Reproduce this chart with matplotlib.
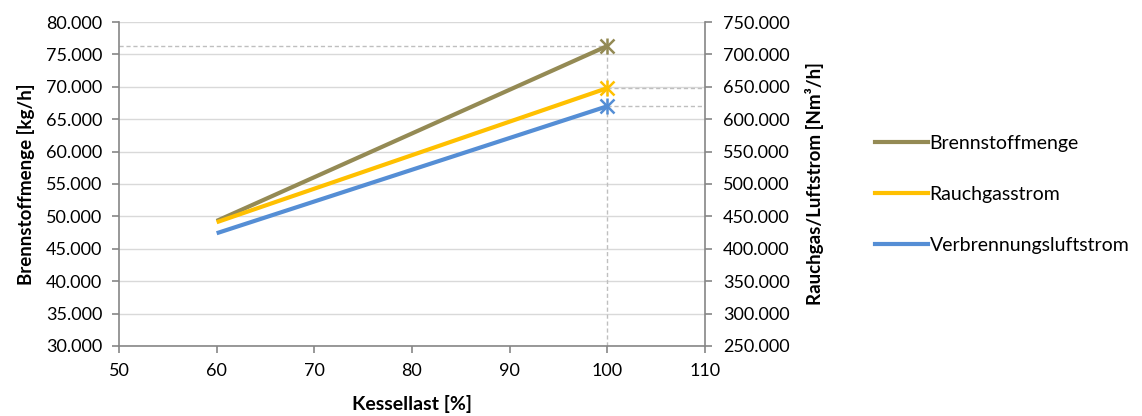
import matplotlib
matplotlib.use("Agg")
import matplotlib.pyplot as plt
from matplotlib.ticker import FuncFormatter, MultipleLocator
from matplotlib.lines import Line2D

plt.rcParams['font.family'] = ['Lato', 'DejaVu Sans']

# Data
kessellast = [60, 100]
brennstoff = [49300, 76300]          # kg/h, left axis
rauchgas = [441000, 648000]          # Nm³/h, right axis
luft = [424000, 620000]              # Nm³/h, right axis
series_names = ["Brennstoffmenge", "Rauchgasstrom", "Verbrennungsluftstrom"]
colors = ["#948A54", "#FFC000", "#558ED5"]

fig = plt.figure(figsize=(11.42, 4.16), dpi=100)
ax = fig.add_axes([0.1042, 0.1683, 0.5131, 0.7788])
ax2 = ax.twinx()

grid_c = "#D9D9D9"
spine_c = "#868686"
fs = 13

ax.set_xlim(50, 110)
ax.set_ylim(30000, 80000)
ax2.set_ylim(250000, 750000)
ax.xaxis.set_major_locator(MultipleLocator(10))
ax.yaxis.set_major_locator(MultipleLocator(5000))
ax2.yaxis.set_major_locator(MultipleLocator(50000))
fmt = FuncFormatter(lambda v, p: f"{v:,.0f}".replace(",", "."))
ax.yaxis.set_major_formatter(fmt)
ax2.yaxis.set_major_formatter(fmt)

ax.grid(axis='y', color=grid_c, linewidth=1)
ax.set_axisbelow(True)

for a in (ax, ax2):
    for s in a.spines.values():
        s.set_visible(False)
ax.spines['left'].set_visible(True)
ax.spines['bottom'].set_visible(True)
ax2.spines['right'].set_visible(True)
for s in (ax.spines['left'], ax.spines['bottom'], ax2.spines['right']):
    s.set_color(spine_c)
    s.set_linewidth(1.2)

ax.tick_params(axis='y', direction='out', color=spine_c, length=5, labelsize=fs, width=1.2, pad=7)
ax.tick_params(axis='x', direction='out', color=spine_c, length=5, labelsize=fs, width=1.2, pad=7)
ax2.tick_params(axis='y', direction='out', color=spine_c, length=5, labelsize=fs, width=1.2, pad=8)

# helper dashed lines
dash_c = "#BFBFBF"
ax.plot([50, kessellast[1]], [brennstoff[1], brennstoff[1]], ls=(0, (3, 2)), color=dash_c, lw=1, zorder=1)
ax.plot([kessellast[1], kessellast[1]], [30000, brennstoff[1]], ls=(0, (3, 2)), color=dash_c, lw=1, zorder=1)
ax2.plot([kessellast[1], 110], [rauchgas[1], rauchgas[1]], ls=(0, (3, 2)), color=dash_c, lw=1, zorder=1)
ax2.plot([kessellast[1], 110], [luft[1], luft[1]], ls=(0, (3, 2)), color=dash_c, lw=1, zorder=1)

lw = 3
ax.plot(kessellast, brennstoff, color=colors[0], lw=lw, solid_capstyle='butt', zorder=3)
ax2.plot(kessellast, rauchgas, color=colors[1], lw=lw, solid_capstyle='butt', zorder=3)
ax2.plot(kessellast, luft, color=colors[2], lw=lw, solid_capstyle='butt', zorder=3)
ax.plot([kessellast[1]], [brennstoff[1]], marker='x', ms=10, mew=1.8, color=colors[0], zorder=4)
ax.plot([kessellast[1]], [brennstoff[1]], marker='|', ms=12, mew=1.8, color=colors[0], zorder=4)
ax2.plot([kessellast[1]], [rauchgas[1]], marker='x', ms=10, mew=1.8, color=colors[1], zorder=4)
ax2.plot([kessellast[1]], [rauchgas[1]], marker='|', ms=12, mew=1.8, color=colors[1], zorder=4)
ax2.plot([kessellast[1]], [luft[1]], marker='x', ms=10, mew=1.8, color=colors[2], zorder=4)
ax2.plot([kessellast[1]], [luft[1]], marker='|', ms=12, mew=1.8, color=colors[2], zorder=4)

ax.set_xlabel("Kessellast [%]", fontsize=14, fontweight='bold', labelpad=12)
ax.set_ylabel("Brennstoffmenge [kg/h]", fontsize=13.5, fontweight='bold', labelpad=8)
ax2.set_ylabel("Rauchgas/Luftstrom [Nm³/h]", fontsize=13.5, fontweight='bold', labelpad=11)

handles = [Line2D([0], [0], color=c, lw=3) for c in colors]
fig.legend(handles, series_names, loc='center left', bbox_to_anchor=(0.751, 0.532),
           frameon=False, fontsize=14, handlelength=2.7, handletextpad=0.1,
           labelspacing=1.75)

fig.savefig("out.png", dpi=100)
